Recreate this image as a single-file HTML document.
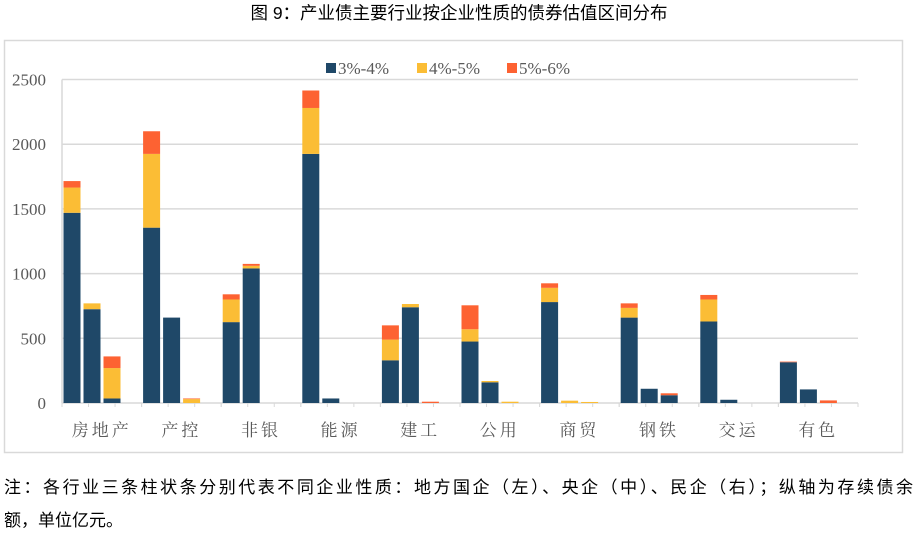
<!DOCTYPE html>
<html><head><meta charset="utf-8"><style>
body{margin:0;background:#fff;}
svg{display:block;}
.ser{font-family:"Liberation Serif","Times New Roman","DejaVu Serif","Noto Serif CJK SC",serif;}
.san{font-family:"Liberation Sans","Noto Sans CJK SC",sans-serif;}
</style></head><body>
<svg id="s" width="921" height="536" xmlns="http://www.w3.org/2000/svg">
<text class="san" x="459" y="19" font-size="17.5" text-anchor="middle" fill="#000">图 9：产业债主要行业按企业性质的债券估值区间分布</text>
<rect x="4.5" y="40.5" width="898" height="412" fill="#fff" stroke="#d9d9d9" stroke-width="1.5"/>
<g id="grid"></g>
<g id="bars"></g>
<g class="ser" font-size="17" fill="#595959">
<rect x="326" y="63" width="10" height="10" fill="#1f4868"/><text class="ser" x="338" y="74">3%-4%</text>
<rect x="417" y="63" width="10" height="10" fill="#fbbd35"/><text class="ser" x="429" y="74">4%-5%</text>
<rect x="507" y="63" width="10" height="10" fill="#fd6232"/><text class="ser" x="519" y="74">5%-6%</text>
</g>
<text class="san" x="4" y="493" font-size="17" textLength="909" lengthAdjust="spacing" fill="#000">注：各行业三条柱状条分别代表不同企业性质：地方国企（左）、央企（中）、民企（右）；纵轴为存续债余</text>
<text class="san" x="4" y="526" font-size="17" fill="#000">额，单位亿元。</text>
</svg>
<script>
var NS="http://www.w3.org/2000/svg";
function el(t,a,p,txt){var e=document.createElementNS(NS,t);for(var k in a)e.setAttribute(k,a[k]);if(txt)e.textContent=txt;p.appendChild(e);return e;}
var g=document.getElementById('grid'),b=document.getElementById('bars');
var y0=403,sc=323.5/2500,x0=62,cw=79.6;
function Y(v){return y0-v*sc;}
for(var i=1;i<=5;i++){el('line',{x1:x0,x2:858,y1:Y(i*500),y2:Y(i*500),stroke:'#d9d9d9','stroke-width':1.5},g);}
for(var i=0;i<=5;i++){el('text',{'class':'ser',x:46,y:Y(i*500)+6,'text-anchor':'end','font-size':17,fill:'#595959'},g,String(i*500));}
el('line',{x1:x0,x2:x0,y1:Y(2500),y2:y0,stroke:'#d9d9d9','stroke-width':1.5},g);
el('line',{x1:x0,x2:858,y1:y0,y2:y0,stroke:'#d9d9d9','stroke-width':1.5},g);
var cats=['房地产','产控','非银','能源','建工','公用','商贸','钢铁','交运','有色'];
var d=[
[[1470,1665,1715],[725,770,770],[35,270,360]],
[[1355,1925,2100],[660,660,660],[0,30,35]],
[[625,800,840],[1040,1060,1075],[0,0,0]],
[[1925,2280,2415],[35,35,35],[0,0,0]],
[[330,490,600],[740,765,765],[0,0,10]],
[[475,570,755],[160,170,170],[0,10,10]],
[[780,890,925],[0,18,18],[0,8,8]],
[[660,735,770],[110,110,110],[60,60,75]],
[[630,800,835],[25,25,25],[0,0,0]],
[[315,315,320],[105,105,105],[0,0,20]]];
var cols=['#1f4868','#fbbd35','#fd6232'];
for(var c=0;c<10;c++){
 var cx=x0+c*cw;
 for(var t=0;t<4;t++){el('line',{x1:cx+t*cw/3,x2:cx+t*cw/3,y1:y0,y2:y0+4,stroke:'#d9d9d9','stroke-width':1},g);}
 el('text',{'class':'ser',x:cx+cw/2,y:436,'text-anchor':'middle','font-size':17,fill:'#595959','letter-spacing':3},g,cats[c]);
 for(var k=0;k<3;k++){
  var bx=cx+1.5+k*20,prev=0;
  for(var s=0;s<3;s++){var v=d[c][k][s];if(v>prev){el('rect',{x:bx,y:Y(v),width:17,height:(v-prev)*sc,fill:cols[s]},b);}if(v>prev)prev=v;}
 }
}
</script>
</body></html>
